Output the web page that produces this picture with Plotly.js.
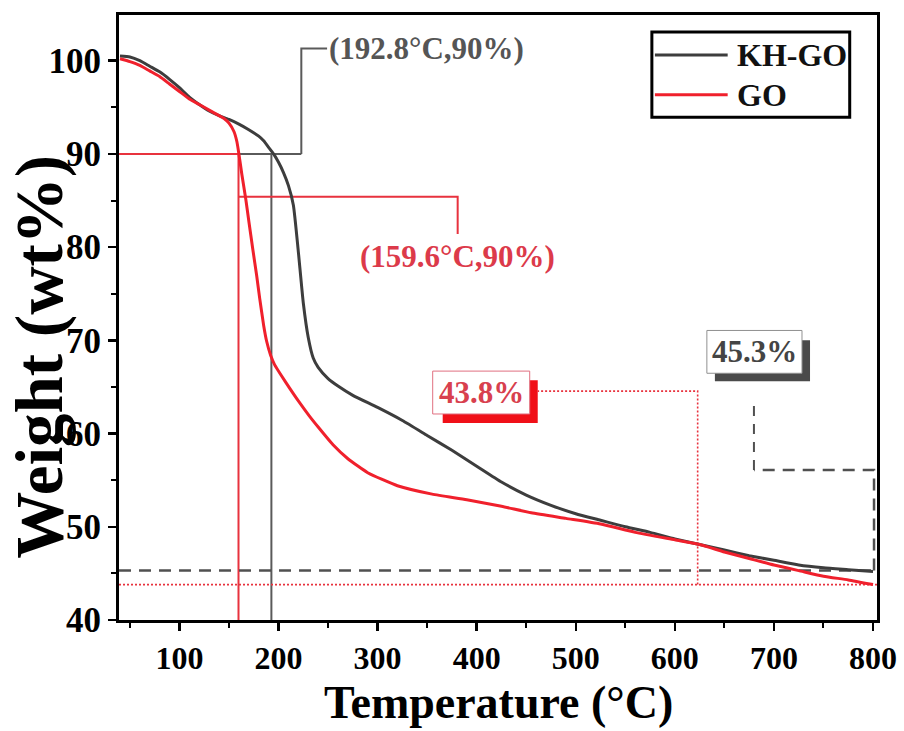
<!DOCTYPE html>
<html>
<head>
<meta charset="utf-8">
<script src="https://cdn.plot.ly/plotly-3.0.1.min.js"></script>
<style>html,body{margin:0;padding:0;background:#fff;}#chart{width:904px;height:731px;}</style>
</head>
<body>
<div id="chart"></div>
<script>
// ---- data ----
const khgoTemp = [40,50,60,70,80,90,100,110,120,130,140,150,160,170,180,185,190,195,200,205,210,215,220,225,230,235,240,250,260,275,300,325,350,375,400,425,450,475,500,525,550,575,600,625,650,675,700,725,750,775,800];
const khgoWeight = [100.5,100.4,100.0,99.4,98.8,98.0,97.1,96.1,95.3,94.6,94.1,93.7,93.2,92.6,91.9,91.4,90.7,90.0,89.1,88.0,86.6,84.5,79.5,74.0,70.3,68.1,67.1,65.9,65.1,64.1,62.8,61.4,59.8,58.2,56.5,54.8,53.4,52.3,51.4,50.7,50.0,49.4,48.7,48.1,47.5,46.9,46.4,45.9,45.6,45.4,45.2];
const goTemp = [40,50,60,70,80,90,100,110,120,130,140,145,150,155,158,160,163,167,170,174,178,181,185,188,192,196,203,211,220,231,240,255,270,290,320,355,390,425,455,490,525,560,600,625,650,675,700,725,750,775,800];
const goWeight = [100.2,99.9,99.5,98.9,98.3,97.5,96.7,95.9,95.3,94.7,94.1,93.8,93.3,92.4,91.3,90.0,87.8,85.1,82.8,79.8,76.9,74.5,71.6,69.9,68.4,67.4,66.2,64.9,63.5,61.9,60.7,58.8,57.3,55.8,54.4,53.5,52.9,52.2,51.5,50.9,50.3,49.4,48.6,48.1,47.3,46.6,45.9,45.3,44.7,44.3,43.8];
const seriesNames = ['KH-GO','GO'];
const xTickVals = [100,200,300,400,500,600,700,800];
const yTickVals = [40,50,60,70,80,90,100];
const khgoT90 = 192.8, goT90 = 159.6, weight90 = 90;
const khgoResidue = 45.3, goResidue = 43.8;
const xRange = [39, 804], yRange = [40, 104.9];

const GRAY = '#3d3d3d', RED = '#f0202c', GRAYA = '#5a5a5a', REDA = '#e8323e';
const FONT = 'Liberation Serif, Times New Roman, serif';

const traces = [
  {x: khgoTemp, y: khgoWeight, name: seriesNames[0], mode: 'lines',
   line: {color: GRAY, width: 3, shape: 'spline', smoothing: 0.5}},
  {x: goTemp, y: goWeight, name: seriesNames[1], mode: 'lines',
   line: {color: RED, width: 3, shape: 'spline', smoothing: 0.5}}
];

const shapes = [
  // KH-GO 90% marker
  {type:'line', x0:xRange[0], x1:223, y0:weight90, y1:weight90, line:{color:GRAYA,width:2}, layer:'below'},
  {type:'line', x0:khgoT90, x1:khgoT90, y0:weight90, y1:yRange[0], line:{color:GRAYA,width:2}, layer:'below'},
  {type:'path', path:'M223,90 L223,101.3 L249,101.3', line:{color:GRAYA,width:2}, layer:'below'},
  // GO 90% marker
  {type:'line', x0:xRange[0], x1:goT90, y0:weight90, y1:weight90, line:{color:REDA,width:2}, layer:'below'},
  {type:'line', x0:goT90, x1:goT90, y0:weight90, y1:yRange[0], line:{color:REDA,width:2}, layer:'below'},
  {type:'path', path:'M159.6,85.4 L380.8,85.4 L380.8,81.4', line:{color:REDA,width:2}, layer:'below'},
  // residues
  {type:'line', x0:xRange[0], x1:xRange[1], y0:khgoResidue, y1:khgoResidue, line:{color:'#505050',width:2.5,dash:'12px,8px'}, layer:'below'},
  {type:'line', x0:xRange[0], x1:xRange[1], y0:goResidue, y1:goResidue, line:{color:REDA,width:1.6,dash:'2px,2px'}, layer:'below'},
  {type:'path', path:'M623,43.8 L623,64.55 L461.6,64.55', line:{color:REDA,width:1.6,dash:'2px,2px'}, layer:'below'},
  {type:'path', path:'M801,45.3 L801,56.1 L679.8,56.1', line:{color:'#505050',width:2.5,dash:'12px,8px'}, layer:'below'},
  {type:'line', x0:679.8, x1:679.8, y0:56.1, y1:63.8, line:{color:'#505050',width:2,dash:'10px,8px'}, layer:'below'},
  // label boxes with shadows
  {type:'rect', x0:365.7, x1:461.6, y0:61.13, y1:65.72, fillcolor:'#f01018', line:{width:0}},
  {type:'rect', x0:355.6, x1:453.5, y0:62.1, y1:66.7, fillcolor:'#ffffff', line:{color:'#e07080',width:1}},
  {type:'rect', x0:640.4, x1:736.4, y0:65.6, y1:70.0, fillcolor:'#4a4a4a', line:{width:0}},
  {type:'rect', x0:632.3, x1:728.3, y0:66.47, y1:71.06, fillcolor:'#ffffff', line:{color:'#909090',width:1}},
  // legend
  {type:'rect', xref:'paper', yref:'paper', x0:0.703, x1:0.964, y0:0.831, y1:0.972, fillcolor:'#ffffff', line:{color:'#000',width:3}},
  {type:'line', xref:'paper', yref:'paper', x0:0.707, x1:0.803, y0:0.934, y1:0.934, line:{color:GRAY,width:3}},
  {type:'line', xref:'paper', yref:'paper', x0:0.707, x1:0.803, y0:0.868, y1:0.868, line:{color:RED,width:3}}
];

const annotations = [
  {x:249, y:101.3, text:'(' + khgoT90 + '°C,' + weight90 + '%)', xanchor:'left', yanchor:'middle', showarrow:false,
   font:{family:FONT, size:31, weight:'bold', color:'#555555'}},
  {x:380.8, y:78.95, text:'(' + goT90 + '°C,' + weight90 + '%)', xanchor:'center', yanchor:'middle', showarrow:false,
   font:{family:FONT, size:31, weight:'bold', color:'#dc3a4a'}},
  {x:404.5, y:64.4, text:goResidue.toFixed(1) + '%', xanchor:'center', yanchor:'middle', showarrow:false,
   font:{family:FONT, size:31, weight:'bold', color:'#d8404e'}},
  {x:680.3, y:68.77, text:khgoResidue.toFixed(1) + '%', xanchor:'center', yanchor:'middle', showarrow:false,
   font:{family:FONT, size:31, weight:'bold', color:'#444444'}},
  {xref:'paper', yref:'paper', x:0.813, y:0.934, text:seriesNames[0], xanchor:'left', yanchor:'middle', showarrow:false,
   font:{family:FONT, size:32, weight:'bold', color:'#111'}},
  {xref:'paper', yref:'paper', x:0.813, y:0.868, text:seriesNames[1], xanchor:'left', yanchor:'middle', showarrow:false,
   font:{family:FONT, size:32, weight:'bold', color:'#111'}},
  // axis titles
  {xref:'paper', yref:'paper', x:-0.105, y:0.436, text:'Weight (wt%)', textangle:-90, xanchor:'center', yanchor:'middle', showarrow:false,
   font:{family:FONT, size:67, weight:'bold', color:'#000'}},
  {xref:'paper', yref:'paper', x:0.5, y:-0.182, text:'Temperature (°C)', xanchor:'center', yanchor:'bottom', showarrow:false,
   font:{family:FONT, size:46, weight:'bold', color:'#000'}}
];

const layout = {
  width: 904, height: 731,
  margin: {l:119, r:27, t:15, b:111},
  paper_bgcolor:'#ffffff', plot_bgcolor:'#ffffff',
  showlegend: false,
  font: {family: FONT, color:'#000'},
  xaxis: {
    range: xRange, tickvals: xTickVals, ticks:'outside', ticklen:8, tickwidth:2.5, tickcolor:'#000',
    minor: {dtick:50, tick0:0, ticks:'outside', ticklen:5, tickwidth:2, tickcolor:'#000'},
    showline:true, linewidth:3, linecolor:'#000', mirror:true, showgrid:false, zeroline:false,
    tickfont:{family:FONT, size:32, weight:'bold'},
    automargin:false
  },
  yaxis: {
    range: yRange, tickvals: yTickVals, ticks:'outside', ticklen:8, tickwidth:2.5, tickcolor:'#000',
    minor: {dtick:5, tick0:0, ticks:'outside', ticklen:5, tickwidth:2, tickcolor:'#000'},
    showline:true, linewidth:3, linecolor:'#000', mirror:true, showgrid:false, zeroline:false,
    tickfont:{family:FONT, size:35, weight:'bold'},
    automargin:false
  },
  shapes: shapes,
  annotations: annotations
};

Plotly.newPlot('chart', traces, layout, {displayModeBar:false, staticPlot:true});
</script>
</body>
</html>
